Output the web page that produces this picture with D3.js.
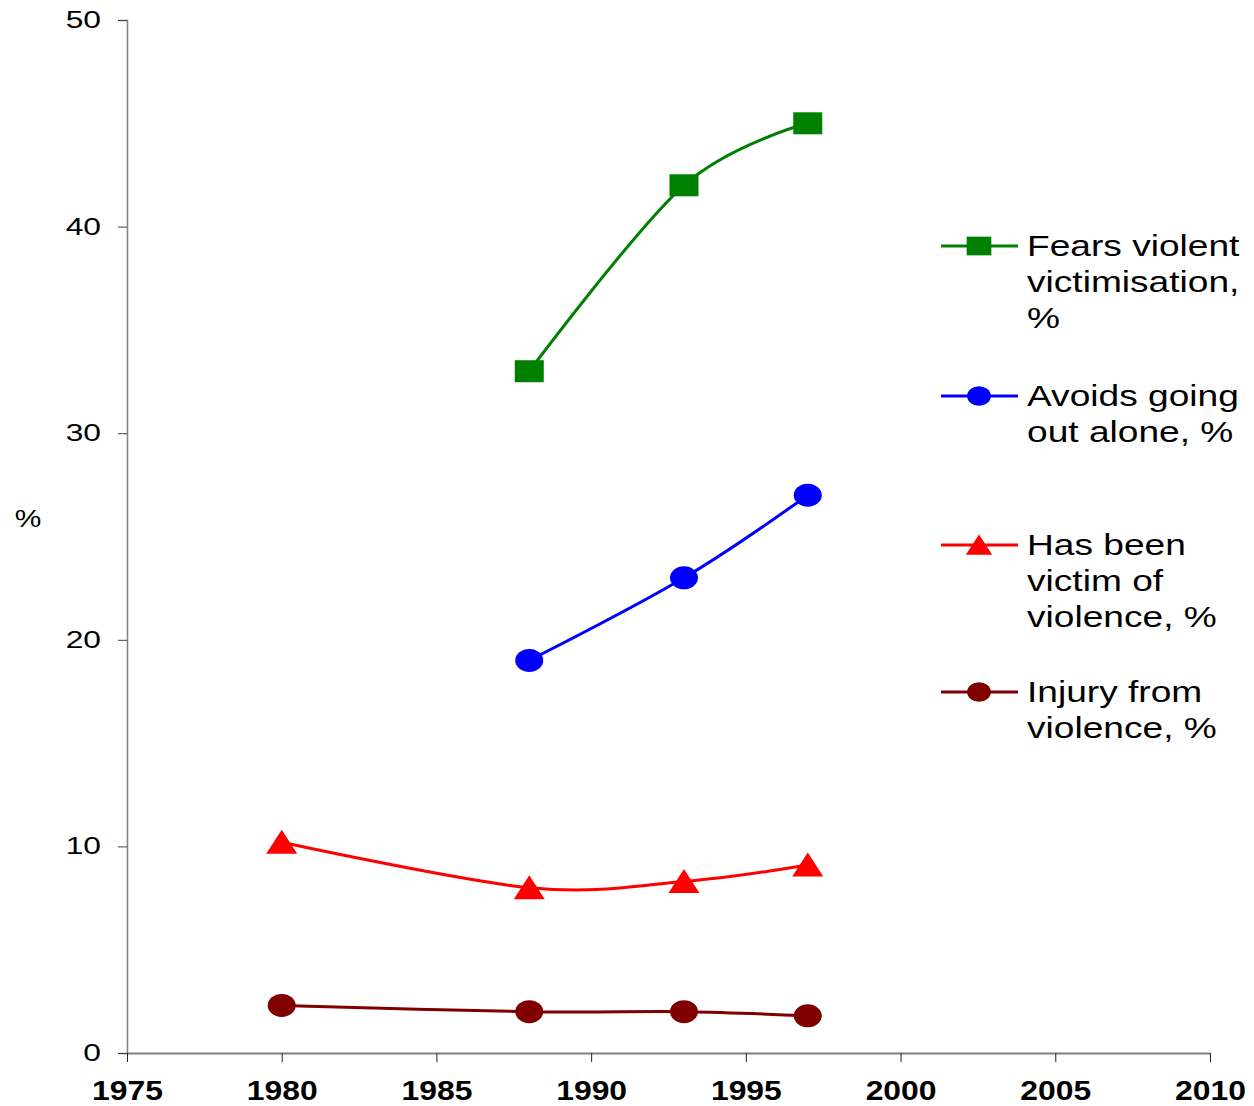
<!DOCTYPE html>
<html>
<head>
<meta charset="utf-8">
<script src="https://cdn.jsdelivr.net/npm/d3@7"></script>
<style>
  html, body { margin: 0; padding: 0; background: #fff; }
  svg { display: block; }
</style>
</head>
<body>
<svg id="chart" width="1254" height="1106"></svg>
<script>
// ---- Data ----
const years1 = [1988, 1993, 1997];
const years2 = [1980, 1988, 1993, 1997];
const fearsViolent = [33, 42, 45];
const avoidsGoingOut = [19, 23, 27];
const victimOfViolence = [10.2, 8.0, 8.3, 9.1];
const injuryFromViolence = [2.3, 2.0, 2.0, 1.8];
const xTicks = [1975, 1980, 1985, 1990, 1995, 2000, 2005, 2010];
const yTicks = [0, 10, 20, 30, 40, 50];
const seriesNames = [
  ["Fears violent", "victimisation,", "%"],
  ["Avoids going", "out alone, %"],
  ["Has been", "victim of", "violence, %"],
  ["Injury from", "violence, %"]
];
const seriesColors = ["#008000", "#0000FF", "#FF0000", "#800000"];
const seriesMarkers = ["square", "circle", "triangle", "circle"];

const series = [
  { name: seriesNames[0], color: seriesColors[0], marker: seriesMarkers[0], pts: years1.map((y, i) => [y, fearsViolent[i]]) },
  { name: seriesNames[1], color: seriesColors[1], marker: seriesMarkers[1], pts: years1.map((y, i) => [y, avoidsGoingOut[i]]) },
  { name: seriesNames[2], color: seriesColors[2], marker: seriesMarkers[2], pts: years2.map((y, i) => [y, victimOfViolence[i]]) },
  { name: seriesNames[3], color: seriesColors[3], marker: seriesMarkers[3], pts: years2.map((y, i) => [y, injuryFromViolence[i]]) }
];

// ---- Layout ----
const svg = d3.select("#chart");
const plot = { left: 127, right: 1210, top: 20, bottom: 1053 };
const FONT = "Liberation Sans, Arial, sans-serif";

const x = d3.scaleLinear().domain([1975, 2010]).range([plot.left, plot.right]);
const y = d3.scaleLinear().domain([0, 50]).range([plot.bottom, plot.top]);

// ---- Axes ----
const yAxis = d3.axisLeft(y).tickValues(yTicks).tickSize(9).tickFormat(() => "");
const gy = svg.append("g").attr("transform", `translate(${plot.left},0)`).call(yAxis);
gy.select(".domain").attr("stroke", "#808080").attr("stroke-width", 1.5);
gy.selectAll(".tick line").attr("stroke", "#404040").attr("stroke-width", 1);

const xAxis = d3.axisBottom(x).tickValues(xTicks).tickSize(9).tickSizeOuter(0).tickFormat(() => "");
const gx = svg.append("g").attr("transform", `translate(0,${plot.bottom})`).call(xAxis);
gx.select(".domain").attr("stroke", "#808080").attr("stroke-width", 2);
gx.selectAll(".tick line").attr("stroke", "#202020").attr("stroke-width", 1);

// y tick labels
svg.append("g").selectAll("text").data(yTicks).join("text")
  .attr("transform", d => `translate(101,${y(d) + 8}) scale(1.38,1)`)
  .attr("text-anchor", "end")
  .attr("font-family", FONT)
  .attr("font-size", 23)
  .attr("fill", "#000")
  .text(d => d);

// x tick labels
svg.append("g").selectAll("text").data(xTicks).join("text")
  .attr("transform", d => `translate(${x(d) + 0.5},1100) scale(1.18,1)`)
  .attr("text-anchor", "middle")
  .attr("font-family", FONT)
  .attr("font-weight", "bold")
  .attr("font-size", 27)
  .attr("fill", "#000")
  .text(d => d);

// y-axis title
svg.append("text")
  .attr("transform", `translate(28,527) scale(1.3,1)`)
  .attr("text-anchor", "middle")
  .attr("font-family", FONT)
  .attr("font-size", 23)
  .text("%");

// ---- Markers ----
function drawMarker(g, type, cx, cy, color, s) {
  if (type === "square") {
    g.append("rect").attr("x", cx - 14.5 * s).attr("y", cy - 11 * s)
      .attr("width", 29 * s).attr("height", 22 * s).attr("fill", color);
  } else if (type === "circle") {
    g.append("ellipse").attr("cx", cx).attr("cy", cy)
      .attr("rx", 14 * s).attr("ry", 11.5 * s).attr("fill", color);
  } else if (type === "triangle") {
    g.append("path")
      .attr("d", `M${cx},${cy - 12.5 * s} L${cx + 15.5 * s},${cy + 11.5 * s} L${cx - 15.5 * s},${cy + 11.5 * s} Z`)
      .attr("fill", color);
  }
}

// ---- Lines ----
const line = d3.line()
  .x(d => x(d[0]))
  .y(d => y(d[1]))
  .curve(d3.curveCardinal.tension(0));

series.forEach(s => {
  svg.append("path")
    .attr("d", line(s.pts))
    .attr("fill", "none")
    .attr("stroke", s.color)
    .attr("stroke-width", 3);
});
series.forEach(s => {
  const g = svg.append("g");
  s.pts.forEach(p => drawMarker(g, s.marker, x(p[0]), y(p[1]), s.color, 1));
});

// ---- Legend ----
const legendY = [246, 396, 545, 692];
const lg = svg.append("g");
series.forEach((s, i) => {
  const cy = legendY[i];
  lg.append("line").attr("x1", 941).attr("x2", 1018).attr("y1", cy).attr("y2", cy)
    .attr("stroke", s.color).attr("stroke-width", 3);
  drawMarker(lg, s.marker, 979, cy, s.color, 0.85);
  s.name.forEach((t, j) => {
    lg.append("text")
      .attr("transform", `translate(1027,${cy + 10 + j * 36}) scale(1.28,1)`)
      .attr("font-family", FONT)
      .attr("font-size", 29)
      .attr("fill", "#000")
      .text(t);
  });
});
</script>
</body>
</html>
